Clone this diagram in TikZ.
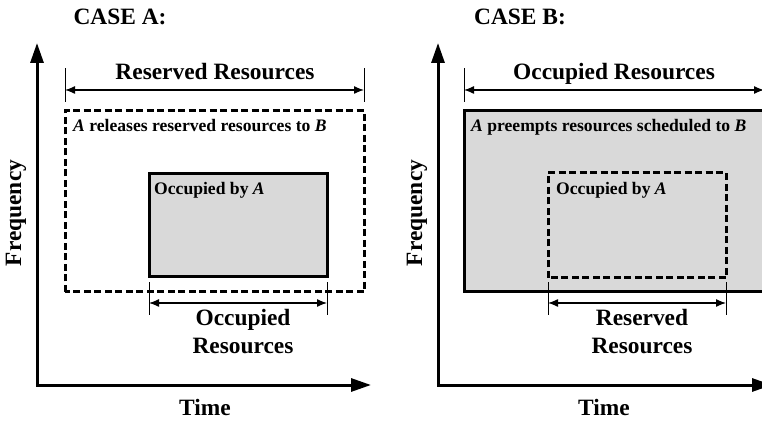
\documentclass[tikz,border=0pt]{standalone}
\usepackage{fontspec}
\setmainfont{Liberation Serif}
\usepackage{tikz}
\usetikzlibrary{arrows.meta,positioning,calc}

\tikzset{
  axis/.style={line width=3pt,line join=miter,{Triangle[length=20pt,width=13pt]}-{Triangle[length=20pt,width=13pt]}},
  dimline/.style={line width=1.3pt,{Latex[length=10pt,width=8pt]}-{Latex[length=10pt,width=8pt]}},
  tickline/.style={line width=1pt},
  usedbox/.style={draw,line width=3pt,fill=black!15},
  resbox/.style={draw,line width=3pt,dash pattern=on 7pt off 3.5pt},
  biglabel/.style={font=\fontsize{23.4}{28}\selectfont\bfseries,align=center,inner sep=0pt},
  smalllabel/.style={font=\fontsize{17.6}{21}\selectfont\bfseries,inner sep=0pt},
}

\begin{document}
\begin{tikzpicture}[x=1pt,y=1pt]
  \useasboundingbox (0,0) rectangle (762,420);
  \clip (0,0) rectangle (762,420);
  % case A panel
  \begin{scope}
    \coordinate (oA) at (37,35);
    \coordinate (yA) at (37,377);
    \coordinate (xA) at (371,35);
    \draw[axis] (yA) -- (oA) -- (xA);
    \node[biglabel,anchor=base] (caseA) at (120,395) {CASE A:};
    \node[biglabel,rotate=90] (freqA) at (16,207) {Frequency};
    \node[biglabel,anchor=base] (timeA) at (205,5) {Time};
    % reserved resources
    \draw[resbox] (65,128) rectangle (364,309);
    \node[smalllabel,anchor=base west] (relA) at (73,288) {\textit{A} releases reserved resources to \textit{B}};
    \coordinate (rlA) at (65,330);
    \coordinate (rrA) at (364,330);
    \draw[tickline] ($(rlA)+(0,-12)$) -- ($(rlA)+(0,22)$);
    \draw[tickline] ($(rrA)+(0,-12)$) -- ($(rrA)+(0,22)$);
    \draw[dimline] (rlA) -- (rrA);
    \node[biglabel,anchor=base] (resA) at (215,340) {Reserved Resources};
    % occupied resources
    \draw[usedbox] (149,143) rectangle (327,246);
    \node[smalllabel,anchor=base west] (occA) at (154,225) {Occupied by \textit{A}};
    \coordinate (olA) at (149,117);
    \coordinate (orA) at (327,117);
    \draw[tickline] ($(olA)+(0,-12)$) -- ($(olA)+(0,21)$);
    \draw[tickline] ($(orA)+(0,-12)$) -- ($(orA)+(0,21)$);
    \draw[dimline] (olA) -- (orA);
    \node[biglabel,anchor=north] (usedA) at (243,111) {Occupied\\Resources};
  \end{scope}
  % case B panel
  \begin{scope}[shift={(400,0)}]
    \coordinate (oB) at (38,35);
    \coordinate (yB) at (38,377);
    \coordinate (xB) at (372,35);
    \draw[axis] (yB) -- (oB) -- (xB);
    \node[biglabel,anchor=base] (caseB) at (120,395) {CASE B:};
    \node[biglabel,rotate=90] (freqB) at (17,207) {Frequency};
    \node[biglabel,anchor=base] (timeB) at (204,5) {Time};
    % occupied resources
    \draw[usedbox] (64,128) rectangle (364,309);
    \node[smalllabel,anchor=base west] (preB) at (71,288) {\textit{A} preempts resources scheduled to \textit{B}};
    \coordinate (olB) at (64,330);
    \coordinate (orB) at (364,330);
    \draw[tickline] ($(olB)+(0,-12)$) -- ($(olB)+(0,22)$);
    \draw[tickline] ($(orB)+(0,-12)$) -- ($(orB)+(0,22)$);
    \draw[dimline] (olB) -- (orB);
    \node[biglabel,anchor=base] (usedB) at (214,340) {Occupied Resources};
    % reserved resources
    \draw[resbox] (148,142) rectangle (326,247);
    \node[smalllabel,anchor=base west] (occB) at (156,225) {Occupied by \textit{A}};
    \coordinate (rlB) at (148,117);
    \coordinate (rrB) at (326,117);
    \draw[tickline] ($(rlB)+(0,-12)$) -- ($(rlB)+(0,21)$);
    \draw[tickline] ($(rrB)+(0,-12)$) -- ($(rrB)+(0,21)$);
    \draw[dimline] (rlB) -- (rrB);
    \node[biglabel,anchor=north] (resB) at (242,111) {Reserved\\Resources};
  \end{scope}
\end{tikzpicture}
\end{document}
